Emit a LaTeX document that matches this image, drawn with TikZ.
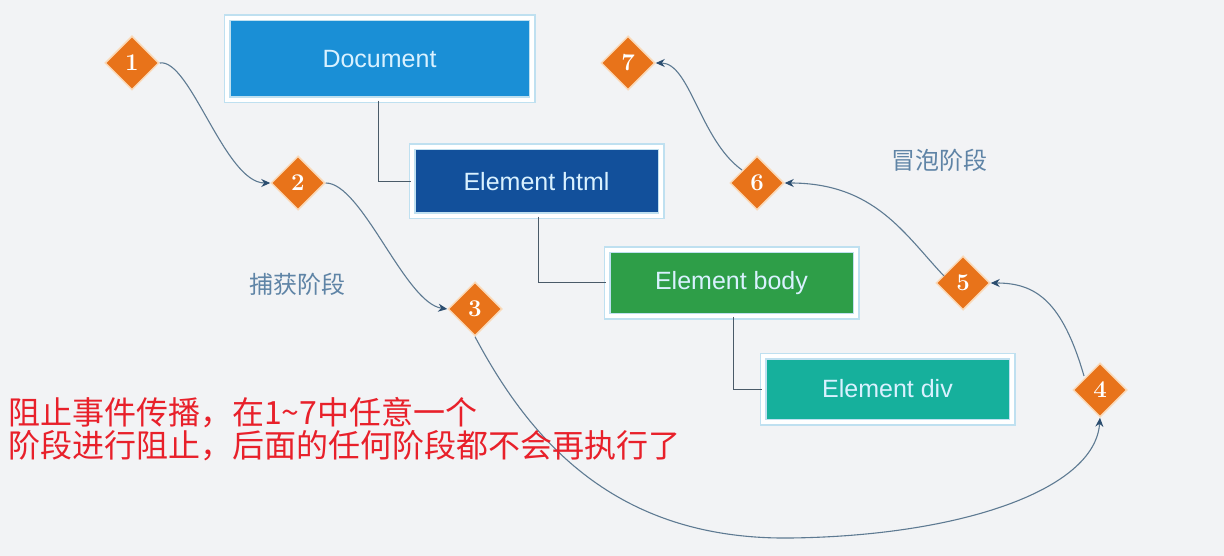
\documentclass[tikz,border=0pt]{standalone}
\usepackage{fontspec}
\setsansfont{Liberation Sans}
\newfontfamily\cjk{Noto Sans CJK SC}
\usetikzlibrary{shapes.geometric,arrows.meta}
\definecolor{bg}{HTML}{F2F3F5}
\definecolor{docblue}{HTML}{1A8FD6}
\definecolor{htmlblue}{HTML}{12509B}
\definecolor{bodygreen}{HTML}{2E9E48}
\definecolor{divteal}{HTML}{16B09C}
\definecolor{framecol}{HTML}{BFE0F0}
\definecolor{dorange}{HTML}{E8731A}
\definecolor{glow}{HTML}{FAD9B8}
\definecolor{curve}{HTML}{5E7A92}
\definecolor{tipcol}{HTML}{2C4E70}
\definecolor{lbl}{HTML}{5F84A6}
\definecolor{redtxt}{HTML}{E8202A}
\definecolor{boxtxt}{HTML}{D9F1FF}
\definecolor{treeline}{HTML}{4A5A68}
\tikzset{
  elbox/.style={draw=framecol, line width=1.5pt, double=white, double distance=4pt,
    minimum height=#1, inner sep=0pt, font=\sffamily\fontsize{25}{28}\selectfont, text=boxtxt},
  dia/.style={diamond, fill=dorange, draw=glow, line width=1.5pt, minimum width=54pt,
    minimum height=54pt, inner sep=0pt, text=white, font=\bfseries\fontsize{24}{26}\selectfont},
  flow/.style={curve, line width=1.1pt, -{Stealth[length=9pt,width=8pt,color=tipcol]}},
  tree/.style={treeline, line width=1pt},
  phase/.style={text=lbl, font=\cjk\fontsize{24}{26}\selectfont},
  note/.style={text=redtxt, font=\cjk\fontsize{32}{34}\selectfont, anchor=west, inner sep=0pt}
}
\begin{document}
\begin{tikzpicture}[x=1pt,y=-1pt]
\fill[bg] (0,0) rectangle (1224,556);
\useasboundingbox (0,0) rectangle (1224,556);
% boxes
\node[elbox=82pt, fill=docblue, minimum width=305pt] (doc) at (379.5,59) {Document};
\node[elbox=69pt, fill=htmlblue, minimum width=249pt] (html) at (536.5,181.5) {Element html};
\node[elbox=66pt, fill=bodygreen, minimum width=249pt] (body) at (731.5,283) {Element body};
\node[elbox=66pt, fill=divteal, minimum width=249pt] (div) at (887.5,389) {Element div};
% tree connectors
\draw[tree] (doc.south -| 378,0) |- (html.west);
\draw[tree] (html.south -| 538,0) |- (body.west);
\draw[tree] (body.south -| 733,0) |- (div.west);
% diamonds
\node[dia] (d1) at (132,63) {1};
\node[dia] (d2) at (298,183) {2};
\node[dia] (d3) at (475,309) {3};
\node[dia] (d4) at (1100,390) {4};
\node[dia] (d5) at (963,283) {5};
\node[dia] (d6) at (757,183) {6};
\node[dia] (d7) at (628,63) {7};
% flow curves
\coordinate (s4) at (1084,376);
\coordinate (s5) at (944,276);
\coordinate (s6) at (742,170);
\draw[flow] (d1.east) .. controls (190,58) and (225,183) .. (d2.west);
\draw[flow] (d2.east) .. controls (362,183) and (405,303) .. (d3.west);
\draw[flow] (d3.south) .. controls (530,440) and (615,540) .. (790,538)
  .. controls (960,536) and (1095,490) .. (d4.south);
\draw[flow] (s4) .. controls (1062,300) and (1035,283) .. (d5.east);
\draw[flow] (s5) .. controls (905,235) and (875,183) .. (d6.east);
\draw[flow] (s6) .. controls (700,140) and (690,63) .. (d7.east);
% phase labels
\node[phase] (cap) at (297,284) {捕获阶段};
\node[phase] (bub) at (939,160) {冒泡阶段};
% note
\node[note] (n1) at (8,413) {阻止事件传播，在1{\char"7E}7中任意一个};
\node[note] (n2) at (8,446) {阶段进行阻止，后面的任何阶段都不会再执行了};
\end{tikzpicture}
\end{document}
